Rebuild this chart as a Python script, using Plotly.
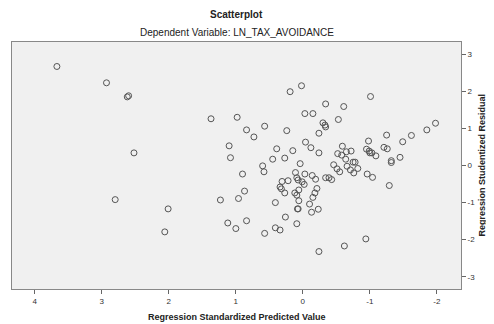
import plotly.graph_objects as go

pred = [3.67, 2.93, 2.62, 2.60, 1.37, 0.98, 0.84, 0.73, 1.10, 1.08, 2.52, 0.90, 0.87, 1.23, 0.96,
        2.80, 2.01, 2.06, 1.12, 1.00, 0.84,
        0.02, 0.19, -1.01, -0.34, -0.61, -0.03, -0.15, -0.53, -0.30, -0.33, -0.34, 0.57, 0.24, -0.24,
        -1.98, -1.85, -1.62, -1.25, -1.49, -0.98, -0.04, -0.59, -0.12, 0.39, 0.15, -0.24, -0.52, -0.58,
        -0.65, -0.72, -0.95, -0.99, -1.00, -1.03, -1.09, -1.21, -1.26, 0.27, 0.45, -0.64, -1.45, -1.32,
        -1.32, 0.04, 0.60, 0.58, -0.46, -0.51, -0.55, -0.66, -0.71, -0.76, -0.75, -0.78, -0.82, 0.11,
        -0.03, -0.14, -0.19, 0.09, 0.07, 0.01, -0.02, 0.31, 0.22, 0.34, 0.32, 0.27, -0.34, -0.39, -0.43,
        -0.96, -1.04, -1.29, -0.21, -0.18, -0.15, 0.12, 0.09, 0.06, 0.06, 0.41, -0.10, 0.08, 0.07, -0.23,
        -0.13, 0.26, 0.09, 0.41, 0.34, 0.57, -0.94, -0.62, -0.24]
resid = [2.67, 2.23, 1.85, 1.88, 1.26, 1.30, 0.96, 0.77, 0.53, 0.21, 0.34, -0.23, -0.69, -0.93, -0.89,
         -0.92, -1.17, -1.79, -1.55, -1.70, -1.49,
         2.15, 1.99, 1.86, 1.66, 1.59, 1.40, 1.40, 1.24, 1.15, 1.09, 1.04, 1.06, 0.94, 0.87,
         1.14, 0.96, 0.81, 0.82, 0.64, 0.66, 0.63, 0.52, 0.48, 0.45, 0.40, 0.34, 0.32, 0.28,
         0.37, 0.39, 0.44, 0.39, 0.34, 0.34, 0.26, 0.49, 0.45, 0.20, 0.17, 0.17, 0.22, 0.13,
         0.08, 0.05, -0.01, -0.17, 0.02, -0.09, -0.17, -0.02, -0.12, -0.20, 0.09, 0.09, -0.08, -0.19,
         -0.23, -0.27, -0.37, -0.33, -0.39, -0.44, -0.51, -0.43, -0.41, -0.58, -0.63, -0.74, -0.33, -0.33, -0.38,
         -0.23, -0.32, -0.54, -0.62, -0.74, -0.86, -0.74, -0.80, -0.66, -0.95, -1.00, -1.04, -1.17, -1.17, -1.18,
         -1.26, -1.39, -1.57, -1.68, -1.74, -1.83, -1.98, -2.17, -2.32]

x_ticks = [4, 3, 2, 1, 0, -1, -2]
y_ticks = [-3, -2, -1, 0, 1, 2, 3]

title = "Scatterplot"
subtitle = "Dependent Variable: LN_TAX_AVOIDANCE"
x_title = "Regression Standardized Predicted Value"
y_title = "Regression Studentized Residual"

fig = go.Figure(go.Scatter(
    x=pred, y=resid, mode="markers",
    marker=dict(symbol="circle-open", size=6, color="#555555", line=dict(width=1, color="#555555")),
    hoverinfo="skip"))

font = "Liberation Sans, Arial, sans-serif"
# the page body adds an 8px offset, so the figure is sized to fit the 494x324 window
fig.update_layout(
    width=486, height=316,
    margin=dict(l=4, r=33, t=34, b=35, autoexpand=False),
    paper_bgcolor="white", plot_bgcolor="#f0f0f0",
    showlegend=False,
    font=dict(family=font, size=8, color="#333333"),
    annotations=[
        dict(text="<b>" + title + "</b>", x=0.5, xref="paper", y=1, yref="paper", yanchor="middle",
             yshift=28, showarrow=False, font=dict(size=10, color="#222")),
        dict(text=subtitle, x=0.5, xref="paper", y=1, yref="paper", yanchor="middle",
             yshift=10, showarrow=False, font=dict(size=10, color="#222")),
        dict(text="<b>" + x_title + "</b>", x=0.5, xref="paper", y=0, yref="paper", yanchor="middle",
             yshift=-28, showarrow=False, font=dict(size=9, color="#222")),
        dict(text="<b>" + y_title + "</b>", x=1, xref="paper", xanchor="center", xshift=20,
             y=0.5, yref="paper", yanchor="middle", textangle=-90,
             showarrow=False, font=dict(size=9, color="#222")),
    ],
)

fig.update_xaxes(
    range=[4.34, -2.36], tickvals=x_ticks, ticktext=[str(v) for v in x_ticks],
    ticks="outside", ticklen=4, tickcolor="#666", showgrid=False, zeroline=False,
    showline=True, linecolor="#888", linewidth=1, mirror=True, automargin=False,
    tickfont=dict(size=8, color="#333"))
fig.update_yaxes(
    range=[-3.33, 3.33], tickvals=y_ticks, ticktext=[str(v) for v in y_ticks], side="right",
    ticks="outside", ticklen=4, tickcolor="#666", showgrid=False, zeroline=False,
    showline=True, linecolor="#888", linewidth=1, mirror=True, automargin=False,
    tickfont=dict(size=8, color="#333"))

fig.write_html("out.html")
